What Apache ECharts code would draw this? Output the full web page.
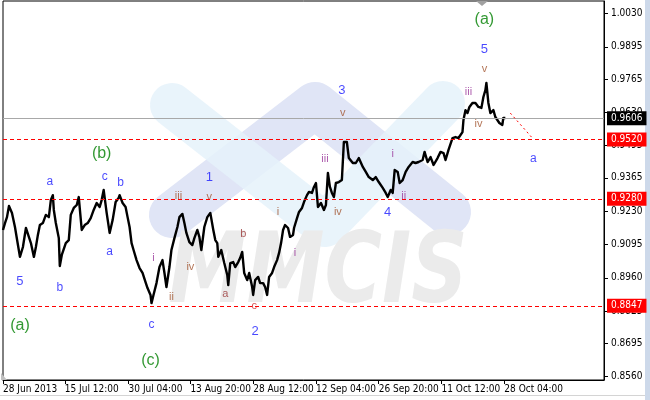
<!DOCTYPE html>
<html>
<head>
<meta charset="utf-8">
<script src="https://cdn.jsdelivr.net/npm/echarts@6/dist/echarts.min.js"></script>
<style>
html,body{margin:0;padding:0;background:#fff;}
#chart{width:650px;height:400px;}
</style>
</head>
<body>
<div id="chart"></div>
<script>
// ---- data ----
const sampleBars = [1,3,5,7,10,13,16,18,21,24,26,29,32,34,36,38,41,44,47,49,51,52,54,57,58,60,62,64,67,69,72,75,77,80,83,86,89,92,95,98,100,102,105,108,111,114,117,118,121,124,126,128,130,132,135,138,141,144,146,149,150,152,155,158,161,163,165,168,170,173,176,178,181,183,185,188,191,193,196,198,200,203,206,209,210,212,214,216,217,220,223,226,227,229,232,234,237,239,241,243,246,248,251,252,254,257,259,262,264,266,268,271,273,276,278,280,282,284,287,289,292,293,296,298,301,303,306,308,311,313,315,317,320,323,325,327,329,331,333,335,338,341,343,346,348,352,355,358,362,365,368,372,375,378,382,385,387,390,392,394,397,399,402,405,408,412,415,418,422,424,427,430,433,437,440,443,445,448,452,455,458,462,463,465,467,469,472,475,478,481,483,485,486,488,490,493,495,497,499,502,503,505];
const closePrices = [0.9154,0.9182,0.9206,0.9251,0.9223,0.9166,0.9093,0.9045,0.9085,0.9162,0.9166,0.9101,0.9045,0.9085,0.9134,0.9174,0.9182,0.9215,0.9206,0.9275,0.9295,0.9235,0.9182,0.9121,0.9008,0.9053,0.9061,0.9101,0.9113,0.9215,0.9243,0.9255,0.9287,0.9154,0.9174,0.9182,0.9202,0.9235,0.9263,0.9247,0.9275,0.9316,0.9223,0.9142,0.9194,0.9267,0.9283,0.9295,0.9263,0.9247,0.9206,0.9166,0.9101,0.9073,0.9032,0.9000,0.8980,0.8943,0.8919,0.8891,0.8858,0.8891,0.8939,0.9004,0.9032,0.8980,0.8923,0.9004,0.9073,0.9121,0.9166,0.9206,0.9219,0.9182,0.9142,0.9105,0.9093,0.9121,0.9154,0.9126,0.9073,0.9166,0.9206,0.9223,0.9231,0.9154,0.9113,0.9101,0.9045,0.9073,0.9020,0.8972,0.8931,0.9020,0.9024,0.9004,0.9024,0.9041,0.9065,0.8980,0.8951,0.8980,0.8923,0.8891,0.8951,0.8964,0.8939,0.8939,0.8923,0.8891,0.8964,0.8980,0.9004,0.9032,0.9061,0.9101,0.9154,0.9174,0.9162,0.9126,0.9134,0.9162,0.9202,0.9227,0.9243,0.9267,0.9295,0.9308,0.9304,0.9328,0.9344,0.9247,0.9263,0.9235,0.9255,0.9385,0.9328,0.9304,0.9287,0.9344,0.9348,0.9356,0.9510,0.9510,0.9445,0.9425,0.9425,0.9445,0.9409,0.9389,0.9368,0.9356,0.9368,0.9348,0.9324,0.9304,0.9287,0.9316,0.9304,0.9397,0.9389,0.9344,0.9356,0.9389,0.9409,0.9429,0.9425,0.9429,0.9437,0.9470,0.9429,0.9449,0.9417,0.9445,0.9470,0.9465,0.9437,0.9478,0.9526,0.9530,0.9526,0.9550,0.9599,0.9639,0.9627,0.9652,0.9668,0.9668,0.9652,0.9648,0.9692,0.9720,0.9749,0.9668,0.9627,0.9639,0.9611,0.9611,0.9587,0.9579,0.9607,0.9607];

const xTickBars = [1,63,127,189,252,315,378,441,504];
const xTickLabels = ['28 Jun 2013','15 Jul 12:00','30 Jul 04:00','13 Aug 20:00','28 Aug 12:00','12 Sep 04:00','26 Sep 20:00','11 Oct 12:00','28 Oct 04:00'];
const yTickValues = [0.8560,0.8695,0.8825,0.8960,0.9095,0.9230,0.9365,0.9495,0.9630,0.9765,0.9895,1.0030];

const levelPrices = [0.9520,0.9280,0.8847];
const currentPrice = 0.9606;
const projectionBars = [510,533];
const projectionPrices = [0.9627,0.9522];

// wave labels: text, bar, price, kind
const waveTexts  = ['(a)','(b)','(a)','(c)','5','3','1','4','2','5','a','c','b','a','b','c','a','iii','v','i','ii','iv','b','a','c','i','i','iv','iii','v','i','ii','iii','iv','v'];
const waveBars   = [484,100,18,149,484,341,208,387,254,18,48,103,119,108,58,150,533,177,208,152,170,189,242,224,253,277,294,337,324,342,392,403,468,478,484];
const wavePrices = [1.0004,0.9465,0.8769,0.8624,0.9886,0.9720,0.9368,0.9223,0.8745,0.8947,0.9348,0.9368,0.9344,0.9065,0.8919,0.8769,0.9441,0.9291,0.9287,0.9041,0.8883,0.9004,0.9138,0.8895,0.8846,0.9227,0.9061,0.9227,0.9441,0.9627,0.9461,0.9291,0.9712,0.9583,0.9805];
const waveKinds  = ['G','G','G','G','N','N','N','N','N','N','L','L','L','L','L','L','L','B','B','P','B','B','R','R','C','B','P','B','P','B','P','P','P','B','B'];

// ---- chart ----
const axisFont = "'Liberation Sans Narrow','Arial Narrow','DejaVu Sans Condensed',sans-serif";
const labelFont = "'Liberation Sans',Arial,sans-serif";
const kindStyle = {
  G:{color:'#008000',fontSize:16},
  N:{color:'#1a1aff',fontSize:13},
  L:{color:'#1a1aff',fontSize:12},
  B:{color:'#a0522d',fontSize:11},
  P:{color:'#993399',fontSize:11},
  R:{color:'#993333',fontSize:11},
  C:{color:'#cc2020',fontSize:11}
};

const lineData = sampleBars.map((b,i)=>[b, closePrices[i]]);
const waveData = waveTexts.map((t,i)=>({
  name:t, value:[waveBars[i], wavePrices[i]],
  label:Object.assign({show:true, position:'inside', formatter:t, fontFamily:labelFont}, kindStyle[waveKinds[i]])
}));

const boxLabel = (bg)=>({show:true, position:'end', distance:3, formatter:(p)=>Number(p.value).toFixed(4),
  color:'#fff', backgroundColor:bg, fontFamily:axisFont, fontSize:10, padding:[2,4,1,4], lineHeight:11});

const chart = echarts.init(document.getElementById('chart'), null, {renderer:'canvas'});
chart.setOption({
  animation:false,
  backgroundColor:'#ffffff',
  grid:{left:1, top:1, right:46, bottom:20, show:true, borderColor:'#000', borderWidth:1, backgroundColor:'transparent'},
  xAxis:{type:'value', min:1, max:604,
    axisLine:{show:true, onZero:false, lineStyle:{color:'#000'}},
    splitLine:{show:false},
    axisTick:{show:true, length:4, lineStyle:{color:'#000'}, customValues:xTickBars},
    axisLabel:{customValues:xTickBars, align:'left', margin:4, color:'#000', fontFamily:axisFont, fontSize:10,
      formatter:(v)=>{const k=xTickBars.indexOf(Math.round(v)); return k>=0?xTickLabels[k]:'';}}
  },
  yAxis:{type:'value', position:'right', min:0.85468, max:1.00806, scale:true,
    axisLine:{show:true, lineStyle:{color:'#000'}},
    splitLine:{show:false},
    axisTick:{show:true, length:4, lineStyle:{color:'#000'}, customValues:yTickValues},
    axisLabel:{customValues:yTickValues, margin:7, color:'#000', fontFamily:axisFont, fontSize:10,
      formatter:(v)=>v.toFixed(4)}
  },
  graphic:[
    {type:'polyline', z:1, silent:true, shape:{points:[[172,215],[315,105],[448,212]]}, style:{stroke:'#e0e5f6',lineWidth:46,lineCap:'round',lineJoin:'round',fill:null}},
    {type:'polyline', z:1, silent:true, shape:{points:[[172,105],[325,225],[443,103]]}, style:{stroke:'#e5f2fa',lineWidth:44,lineCap:'round',lineJoin:'round',fill:null,opacity:0.85}},
    {type:'text', z:1, silent:true, x:318, y:326, scaleX:0.8, originX:0, originY:0,
      style:{text:'MMCIS', fill:'#ebebeb', font:"italic bold 98px 'DejaVu Sans', sans-serif", textAlign:'center', textVerticalAlign:'bottom'}},
    {type:'polygon', z:5, silent:true, shape:{points:[[476,1],[488,1],[482,6]]}, style:{fill:'#a0a0a0'}},
    {type:'polygon', z:5, silent:true, shape:{points:[[1,373],[1,380],[7,380]]}, style:{fill:'#c0c0c0'}},
    {type:'rect', z:5, silent:true, shape:{x:645,y:0,width:5,height:400}, style:{fill:'#cdd9ea'}},
    {type:'rect', z:5, silent:true, shape:{x:0,y:395,width:645,height:1}, style:{fill:'#d4d4d4'}}
  ],
  series:[
    {type:'line', name:'levels', data:[], color:'#ff0000', z:2, silent:true,
     markLine:{silent:true, precision:4, symbol:['none','none'],
       lineStyle:{color:'#ff0000', type:[4,3], width:1},
       data:levelPrices.map(v=>({yAxis:v, label:boxLabel('#ff0000')}))}},
    {type:'line', name:'current', data:[], color:'#a8a8a8', z:2, silent:true,
     markLine:{silent:true, precision:4, symbol:['none','none'],
       lineStyle:{color:'#a8a8a8', type:'solid', width:1},
       data:[{yAxis:currentPrice, label:boxLabel('#000000')}]}},
    {type:'line', name:'projection', data:[], color:'#ff0000', z:2, silent:true,
     markLine:{silent:true, precision:4, symbol:['none','none'],
       lineStyle:{color:'#ff0000', type:[2,3], width:1}, label:{show:false},
       data:[[{coord:[projectionBars[0],projectionPrices[0]]},{coord:[projectionBars[1],projectionPrices[1]]}]]}},
    {type:'line', name:'price', data:lineData, symbol:'none', lineStyle:{color:'#000', width:2.4, join:'round'}, z:3},
    {type:'scatter', data:waveData, symbolSize:0, z:4, silent:true}
  ]
});
</script>
</body>
</html>
